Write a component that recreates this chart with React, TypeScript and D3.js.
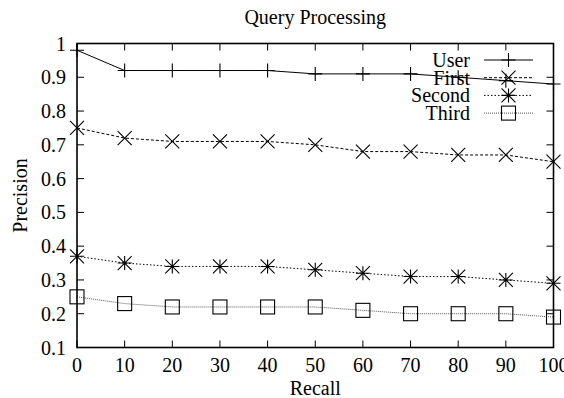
import React from "react";
import * as d3 from "d3";

const recall = [0, 10, 20, 30, 40, 50, 60, 70, 80, 90, 100];
const userVals = [0.98, 0.92, 0.92, 0.92, 0.92, 0.91, 0.91, 0.91, 0.9, 0.89, 0.88];
const firstVals = [0.75, 0.72, 0.71, 0.71, 0.71, 0.7, 0.68, 0.68, 0.67, 0.67, 0.65];
const secondVals = [0.37, 0.35, 0.34, 0.34, 0.34, 0.33, 0.32, 0.31, 0.31, 0.3, 0.29];
const thirdVals = [0.25, 0.23, 0.22, 0.22, 0.22, 0.22, 0.21, 0.2, 0.2, 0.2, 0.19];
const xTicks = [0, 10, 20, 30, 40, 50, 60, 70, 80, 90, 100];
const yTicks = [0.1, 0.2, 0.3, 0.4, 0.5, 0.6, 0.7, 0.8, 0.9, 1];
const seriesNames = ["User", "First", "Second", "Third"];

const W = 564;
const H = 398;
const L = 77;
const R = 553.5;
const T = 43.5;
const B = 347.5;
const FONT = "Liberation Serif";

type Marker = "plus" | "cross" | "star" | "square";

function MarkerShape({ type, x, y }: { type: Marker; x: number; y: number }) {
  const s = 7;
  const st = { stroke: "#000", strokeWidth: 1.1, fill: "none" };
  if (type === "plus")
    return <path d={`M${x - s},${y}H${x + s}M${x},${y - s}V${y + s}`} {...st} />;
  if (type === "cross")
    return <path d={`M${x - s},${y - s}L${x + s},${y + s}M${x - s},${y + s}L${x + s},${y - s}`} {...st} />;
  if (type === "star")
    return (
      <path
        d={`M${x - s},${y - s}L${x + s},${y + s}M${x - s},${y + s}L${x + s},${y - s}M${x},${y - s}V${y + s}M${x - s},${y}H${x + s}`}
        {...st}
      />
    );
  return <rect x={x - s} y={y - s} width={2 * s} height={2 * s} {...st} />;
}

const txt = { fontFamily: FONT, fontSize: 20 } as React.CSSProperties;

export default function App() {
  const x = d3.scaleLinear().domain([0, 100]).range([L, R]);
  const y = d3.scaleLinear().domain([0.1, 1]).range([B, T]);
  const line = d3
    .line<number>()
    .x((_, i) => x(recall[i]))
    .y((d) => y(d));

  const series = [
    { name: seriesNames[0], vals: userVals, marker: "plus" as Marker, dash: undefined, color: "#000", w: 1 },
    { name: seriesNames[1], vals: firstVals, marker: "cross" as Marker, dash: "3,2", color: "#000", w: 1 },
    { name: seriesNames[2], vals: secondVals, marker: "star" as Marker, dash: "1.5,2", color: "#000", w: 1 },
    { name: seriesNames[3], vals: thirdVals, marker: "square" as Marker, dash: "1,1", color: "#555", w: 1 },
  ];

  const tickLen = 7;
  return (
    <svg width={W} height={H} style={{ display: "block", position: "absolute", left: 0, top: 0, background: "#fff" }}>
      <rect x={0} y={0} width={W} height={H} fill="#fff" />
      {xTicks.map((t) => (
        <g key={"xt" + t}>
          <line x1={x(t)} x2={x(t)} y1={B} y2={B - tickLen} stroke="#000" />
          <line x1={x(t)} x2={x(t)} y1={T} y2={T + tickLen} stroke="#000" />
          <text x={x(t)} y={365} textAnchor="middle" dominantBaseline="central" style={txt}>
            {t}
          </text>
        </g>
      ))}
      {yTicks.map((t) => (
        <g key={"yt" + t}>
          <line x1={L} x2={L + tickLen} y1={y(t)} y2={y(t)} stroke="#000" />
          <line x1={R} x2={R - tickLen} y1={y(t)} y2={y(t)} stroke="#000" />
          <text x={66} y={y(t)} textAnchor="end" dominantBaseline="central" style={txt}>
            {t === 1 ? "1" : d3.format(".1f")(t)}
          </text>
        </g>
      ))}
      <text x={(L + R) / 2} y={17} textAnchor="middle" dominantBaseline="central" style={txt}>
        Query Processing
      </text>
      <text x={(L + R) / 2} y={388} textAnchor="middle" dominantBaseline="central" style={txt}>
        Recall
      </text>
      <text
        transform={`translate(20,${(T + B) / 2}) rotate(-90)`}
        textAnchor="middle"
        dominantBaseline="central"
        style={txt}
      >
        Precision
      </text>
      {series.map((s) => (
        <g key={s.name}>
          <path d={line(s.vals) || ""} fill="none" stroke={s.color} strokeWidth={s.w} strokeDasharray={s.dash} />
          {s.vals.map((v, i) => (
            <MarkerShape key={i} type={s.marker} x={x(recall[i])} y={y(v)} />
          ))}
        </g>
      ))}
      {series.map((s, i) => {
        const ly = 60 + i * 17.7;
        return (
          <g key={"lg" + s.name}>
            <text x={470} y={ly} textAnchor="end" dominantBaseline="central" style={txt}>
              {s.name}
            </text>
            <line x1={484} x2={533} y1={ly} y2={ly} stroke={s.color} strokeWidth={s.w} strokeDasharray={s.dash} />
            <MarkerShape type={s.marker} x={508.5} y={ly} />
          </g>
        );
      })}
      <rect x={L} y={T} width={R - L} height={B - T} fill="none" stroke="#000" strokeWidth={1.6} />
    </svg>
  );
}
